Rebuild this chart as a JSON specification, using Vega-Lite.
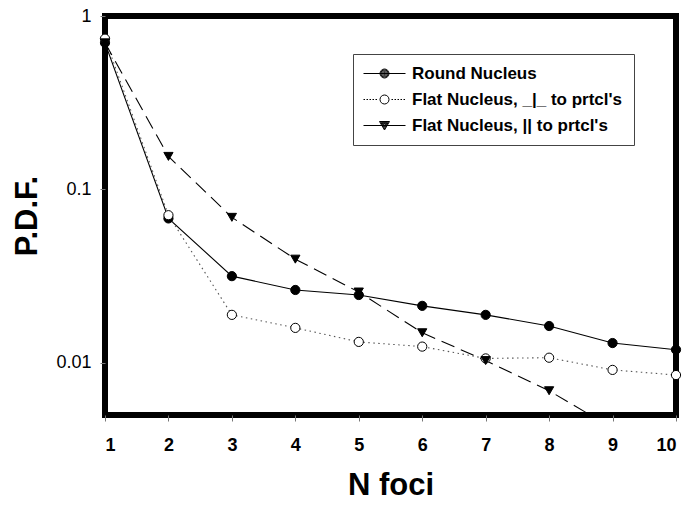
{
  "$schema": "https://vega.github.io/schema/vega-lite/v6.json",
  "width": 571,
  "height": 399,
  "autosize": "none",
  "padding": {"left": 105, "top": 16, "right": 13, "bottom": 91},
  "background": "white",
  "config": {
    "view": {"stroke": "black", "strokeWidth": 6},
    "font": "Liberation Sans"
  },
  "data": {
    "values": [
      {"n": 1, "y": 0.70, "s": "Round Nucleus"},
      {"n": 2, "y": 0.068, "s": "Round Nucleus"},
      {"n": 3, "y": 0.0316, "s": "Round Nucleus"},
      {"n": 4, "y": 0.0263, "s": "Round Nucleus"},
      {"n": 5, "y": 0.0246, "s": "Round Nucleus"},
      {"n": 6, "y": 0.0213, "s": "Round Nucleus"},
      {"n": 7, "y": 0.0189, "s": "Round Nucleus"},
      {"n": 8, "y": 0.0163, "s": "Round Nucleus"},
      {"n": 9, "y": 0.0130, "s": "Round Nucleus"},
      {"n": 10, "y": 0.0119, "s": "Round Nucleus"},
      {"n": 1, "y": 0.74, "s": "Flat Nucleus, _|_ to prtcl's"},
      {"n": 2, "y": 0.071, "s": "Flat Nucleus, _|_ to prtcl's"},
      {"n": 3, "y": 0.0189, "s": "Flat Nucleus, _|_ to prtcl's"},
      {"n": 4, "y": 0.0159, "s": "Flat Nucleus, _|_ to prtcl's"},
      {"n": 5, "y": 0.0132, "s": "Flat Nucleus, _|_ to prtcl's"},
      {"n": 6, "y": 0.0124, "s": "Flat Nucleus, _|_ to prtcl's"},
      {"n": 7, "y": 0.0106, "s": "Flat Nucleus, _|_ to prtcl's"},
      {"n": 8, "y": 0.0107, "s": "Flat Nucleus, _|_ to prtcl's"},
      {"n": 9, "y": 0.0091, "s": "Flat Nucleus, _|_ to prtcl's"},
      {"n": 10, "y": 0.0085, "s": "Flat Nucleus, _|_ to prtcl's"},
      {"n": 1, "y": 0.70, "s": "Flat Nucleus, || to prtcl's"},
      {"n": 2, "y": 0.155, "s": "Flat Nucleus, || to prtcl's"},
      {"n": 3, "y": 0.069, "s": "Flat Nucleus, || to prtcl's"},
      {"n": 4, "y": 0.0396, "s": "Flat Nucleus, || to prtcl's"},
      {"n": 5, "y": 0.0256, "s": "Flat Nucleus, || to prtcl's"},
      {"n": 6, "y": 0.0149, "s": "Flat Nucleus, || to prtcl's"},
      {"n": 7, "y": 0.0103, "s": "Flat Nucleus, || to prtcl's"},
      {"n": 8, "y": 0.0069, "s": "Flat Nucleus, || to prtcl's"},
      {"n": 9, "y": 0.0042, "s": "Flat Nucleus, || to prtcl's"},
      {"n": 10, "y": 0.0026, "s": "Flat Nucleus, || to prtcl's"}
    ]
  },
  "encoding": {
    "x": {
      "field": "n", "type": "quantitative",
      "scale": {"domain": [1, 10], "nice": false, "zero": false},
      "axis": {
        "title": "N foci", "values": [1,2,3,4,5,6,7,8,9,10],
        "grid": false, "domain": false,
        "tickColor": "#777", "tickSize": 6, "tickWidth": 1,
        "labelFont": "Liberation Sans", "labelFontSize": 18, "labelFontWeight": "bold", "labelColor": "black",
        "labelPadding": 15,
        "titleFont": "Liberation Sans", "titleFontSize": 31, "titleFontWeight": "bold", "titleColor": "black",
        "titlePadding": 16
      }
    },
    "y": {
      "field": "y", "type": "quantitative",
      "scale": {"type": "log", "domain": [0.005, 1], "nice": false},
      "axis": {
        "title": "P.D.F.", "values": [0.01, 0.1, 1], "format": "~g",
        "grid": false, "domain": false,
        "tickColor": "#777", "tickSize": 5, "tickWidth": 1,
        "labelFont": "Liberation Sans", "labelFontSize": 18, "labelFontWeight": "normal", "labelColor": "black",
        "labelPadding": 9,
        "titleFont": "Liberation Sans", "titleFontSize": 31, "titleFontWeight": "bold", "titleColor": "black",
        "titlePadding": 12
      }
    }
  },
  "layer": [
    {
      "transform": [{"filter": "datum.s === 'Round Nucleus'"}],
      "mark": {"type": "line", "clip": true, "strokeWidth": 1.1, "color": "black"},
      "encoding": {}
    },
    {
      "transform": [{"filter": "indexof(datum.s, '_|_') >= 0"}],
      "mark": {"type": "line", "clip": true, "strokeWidth": 1.1, "color": "#555555", "strokeDash": [1.5, 3.5]},
      "encoding": {}
    },
    {
      "transform": [{"filter": "indexof(datum.s, '||') >= 0"}],
      "mark": {"type": "line", "clip": true, "strokeWidth": 1.1, "color": "black", "strokeDash": [14, 7]},
      "encoding": {}
    },
    {
      "transform": [{"filter": "datum.y >= 0.005"}],
      "mark": {"type": "point", "filled": false, "opacity": 1, "strokeWidth": 1, "stroke": "black"},
      "encoding": {
        "shape": {
          "field": "s", "type": "nominal", "legend": null,
          "scale": {
            "domain": ["Round Nucleus", "Flat Nucleus, _|_ to prtcl's", "Flat Nucleus, || to prtcl's"],
            "range": ["circle", "circle", "triangle-down"]
          }
        },
        "fill": {
          "field": "s", "type": "nominal", "legend": null,
          "scale": {
            "domain": ["Round Nucleus", "Flat Nucleus, _|_ to prtcl's", "Flat Nucleus, || to prtcl's"],
            "range": ["black", "white", "black"]
          }
        },
        "size": {"value": 85}
      }
    },
    {
      "transform": [{"filter": "datum.n > 100"}],
      "mark": {"type": "point", "filled": false, "opacity": 1, "strokeWidth": 1, "stroke": "black"},
      "encoding": {
        "shape": {
          "field": "s", "type": "nominal",
          "scale": {
            "domain": ["Round Nucleus", "Flat Nucleus, _|_ to prtcl's", "Flat Nucleus, || to prtcl's"],
            "range": [
              "M-1.8,0H6.6M3.3,0A0.9,0.9 0 1,1 1.5,0A0.9,0.9 0 1,1 3.3,0ZM3.12,0A0.72,0.72 0 1,1 1.68,0A0.72,0.72 0 1,1 3.12,0ZM2.94,0A0.54,0.54 0 1,1 1.86,0A0.54,0.54 0 1,1 2.94,0ZM2.76,0A0.36,0.36 0 1,1 2.04,0A0.36,0.36 0 1,1 2.76,0ZM2.58,0A0.18,0.18 0 1,1 2.22,0A0.18,0.18 0 1,1 2.58,0Z",
              "M-1.8,0H-1.5M-1.2,0H-0.9M-0.6,0H-0.3M0,0H0.3M0.6,0H0.9M3.8,0H4.1M4.4,0H4.7M5.0,0H5.3M5.6,0H5.9M6.2,0H6.5M3.3,0A0.9,0.9 0 1,1 1.5,0A0.9,0.9 0 1,1 3.3,0Z",
              "M-1.8,0H6.6M1.4,-0.8H3.4L2.4,0.9ZM1.65,-0.66H3.15L2.4,0.62ZM1.9,-0.52H2.9L2.4,0.33ZM2.15,-0.38H2.65L2.4,0.05Z"
            ]
          },
          "legend": {
            "title": null,
            "orient": "none", "legendX": 248, "legendY": 38,
            "padding": 11, "rowPadding": 8,
            "strokeColor": "#444444", "fillColor": "white",
            "symbolSize": 100, "symbolStrokeWidth": 1, "symbolStrokeColor": "black",
            "labelOffset": 31,
            "labelFont": "Liberation Sans", "labelFontSize": 17, "labelFontWeight": "bold", "labelColor": "black",
            "labelLimit": 400
          }
        },
        "size": {"value": 85}
      }
    }
  ],
  "resolve": {"scale": {"shape": "independent"}, "legend": {"shape": "independent"}}
}
